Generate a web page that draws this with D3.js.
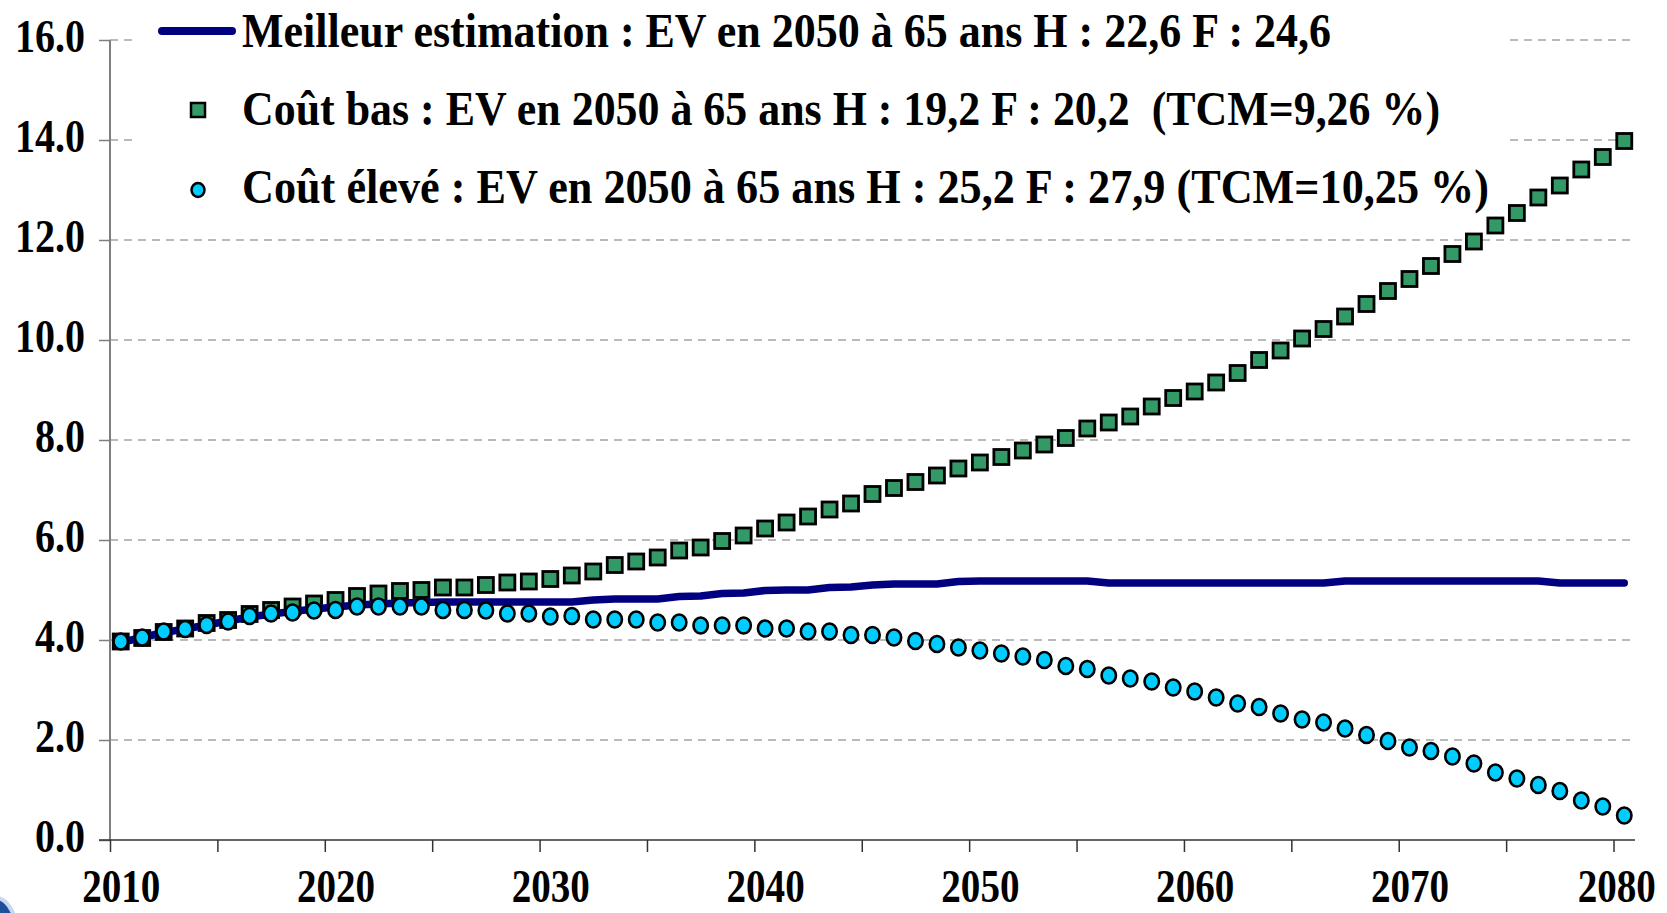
<!DOCTYPE html>
<html>
<head>
<meta charset="utf-8">
<script src="https://cdn.jsdelivr.net/npm/d3@7"></script>
<style>
  body { margin: 0; background: #fff; }
  svg { display: block; }
  text { font-family: "Liberation Serif", "Times New Roman", serif; font-weight: bold; fill: #000; }
</style>
</head>
<body>
<div id="chart"></div>
<script>
// years 2010..2080
const years = d3.range(2010, 2081);

const bestEstimate = [
  3.95, 4.05, 4.15, 4.22, 4.30, 4.38, 4.46, 4.52, 4.57, 4.62,
  4.66, 4.70, 4.72, 4.74, 4.75, 4.76, 4.76, 4.76, 4.76, 4.76,
  4.76, 4.76, 4.80, 4.82, 4.82, 4.82, 4.87, 4.88, 4.93, 4.94,
  4.99, 5.00, 5.00, 5.05, 5.06, 5.10, 5.12, 5.12, 5.12, 5.17,
  5.18, 5.18, 5.18, 5.18, 5.18, 5.18, 5.14, 5.14, 5.14, 5.14,
  5.14, 5.14, 5.14, 5.14, 5.14, 5.14, 5.14, 5.18, 5.18, 5.18,
  5.18, 5.18, 5.18, 5.18, 5.18, 5.18, 5.18, 5.14, 5.14, 5.14,
  5.14
];

const lowCost = [
  3.97, 4.04, 4.16, 4.23, 4.34, 4.40, 4.52, 4.60, 4.67, 4.73,
  4.80, 4.88, 4.93, 4.98, 5.00, 5.05, 5.05, 5.10, 5.15, 5.17,
  5.22, 5.29, 5.37, 5.50, 5.57, 5.65, 5.79, 5.85, 5.98, 6.09,
  6.23, 6.35, 6.47, 6.61, 6.73, 6.92, 7.04, 7.16, 7.29, 7.43,
  7.55, 7.66, 7.79, 7.91, 8.04, 8.23, 8.35, 8.47, 8.67, 8.84,
  8.97, 9.15, 9.34, 9.60, 9.79, 10.03, 10.22, 10.47, 10.72, 10.98,
  11.22, 11.48, 11.72, 11.97, 12.29, 12.54, 12.85, 13.09, 13.41, 13.66,
  13.98
];

const highCost = [
  3.97, 4.05, 4.17, 4.22, 4.30, 4.37, 4.48, 4.53, 4.55, 4.59,
  4.60, 4.67, 4.67, 4.67, 4.67, 4.60, 4.60, 4.59, 4.53, 4.53,
  4.47, 4.48, 4.41, 4.41, 4.41, 4.35, 4.35, 4.29, 4.29, 4.29,
  4.23, 4.23, 4.17, 4.17, 4.10, 4.10, 4.05, 3.98, 3.92, 3.85,
  3.79, 3.73, 3.67, 3.60, 3.48, 3.42, 3.29, 3.23, 3.17, 3.05,
  2.97, 2.85, 2.73, 2.66, 2.53, 2.41, 2.35, 2.23, 2.10, 1.98,
  1.85, 1.78, 1.67, 1.53, 1.35, 1.23, 1.10, 0.98, 0.79, 0.67,
  0.49
];

const yTicks = [0, 2, 4, 6, 8, 10, 12, 14, 16];
const xLabels = [2010, 2020, 2030, 2040, 2050, 2060, 2070, 2080];
const xTickMarks = d3.range(2009.5, 2080, 5);

const legendLabels = [
  "Meilleur estimation : EV en 2050 à 65 ans H : 22,6 F : 24,6",
  "Coût bas : EV en 2050 à 65 ans H : 19,2 F : 20,2\u00a0\u00a0(TCM=9,26 %)",
  "Coût élevé : EV en 2050 à 65 ans H : 25,2 F : 27,9 (TCM=10,25 %)"
];

const width = 1667, height = 913;
const plotLeft = 110, plotRight = 1635, plotTop = 40, plotBottom = 840;

const svg = d3.select("#chart").append("svg")
  .attr("width", width)
  .attr("height", height);

const x = d3.scaleLinear().domain([2009.5, 2080.5]).range([plotLeft, plotRight]);
const y = d3.scaleLinear().domain([0, 16]).range([plotBottom, plotTop]);

// the original text is a condensed bold serif: squeeze glyphs horizontally
function condense(sel, k) {
  sel.each(function() {
    const w = this.getComputedTextLength();
    d3.select(this).attr("textLength", w * k).attr("lengthAdjust", "spacingAndGlyphs");
  });
}

// gridlines
svg.append("g")
  .selectAll("line")
  .data(yTicks.filter(d => d > 0))
  .join("line")
  .attr("x1", plotLeft).attr("x2", plotRight)
  .attr("y1", d => y(d)).attr("y2", d => y(d))
  .attr("stroke", "#777")
  .attr("stroke-width", 1.2)
  .attr("stroke-dasharray", "8,6");

// y axis
const yAxis = svg.append("g")
  .attr("transform", `translate(${plotLeft},0)`)
  .call(d3.axisLeft(y).tickValues(yTicks).tickFormat(d3.format(".1f")).tickSize(11).tickPadding(14));
yAxis.select(".domain").remove();
yAxis.selectAll(".tick line").attr("stroke", "#7f7f7f").attr("stroke-width", 1.5);
yAxis.selectAll(".tick text")
  .style("font-size", "46px")
  .attr("dy", "0.26em")
  .call(condense, 0.87);
svg.append("line")
  .attr("x1", plotLeft).attr("x2", plotLeft)
  .attr("y1", y(16)).attr("y2", y(0))
  .attr("stroke", "#7f7f7f").attr("stroke-width", 2);

// x axis
const xTicks = svg.append("g")
  .attr("transform", `translate(0,${plotBottom})`)
  .call(d3.axisBottom(x).tickValues(xTickMarks).tickFormat("").tickSize(12));
xTicks.select(".domain").remove();
xTicks.selectAll(".tick line").attr("stroke", "#333").attr("stroke-width", 1.5);

const xLab = svg.append("g")
  .attr("transform", `translate(0,${plotBottom})`)
  .call(d3.axisBottom(x).tickValues(xLabels).tickFormat(d3.format("d")).tickSize(0).tickPadding(0));
xLab.select(".domain").remove();
xLab.selectAll(".tick text")
  .style("font-size", "46px")
  .attr("y", 62)
  .attr("dy", null)
  .call(condense, 0.85);
// last label: anchor at its right end so it stays inside the page
xLab.selectAll(".tick text")
  .filter(d => d === 2080)
  .attr("text-anchor", "end")
  .attr("x", function() { return +this.getAttribute("textLength") / 2 - 8; });

svg.append("line")
  .attr("x1", plotLeft - 11).attr("x2", plotRight)
  .attr("y1", plotBottom).attr("y2", plotBottom)
  .attr("stroke", "#333").attr("stroke-width", 1.5);

// legend
svg.append("rect")
  .attr("x", 134).attr("y", 0)
  .attr("width", 1371).attr("height", 205)
  .attr("fill", "#fff");

const legendX = 242;
const legendY = [47, 125, 203];
const legendW = [1089, 1198, 1247];

svg.append("line")
  .attr("x1", 162).attr("x2", 232)
  .attr("y1", 31).attr("y2", 31)
  .attr("stroke", "#000080").attr("stroke-width", 8)
  .attr("stroke-linecap", "round");
svg.append("rect")
  .attr("x", 191).attr("y", 103).attr("width", 14).attr("height", 14)
  .attr("fill", "#339966").attr("stroke", "#000").attr("stroke-width", 2.5);
svg.append("ellipse")
  .attr("cx", 198).attr("cy", 190).attr("rx", 6.5).attr("ry", 7)
  .attr("fill", "#00ccff").attr("stroke", "#000").attr("stroke-width", 2.5);

svg.append("g")
  .selectAll("text")
  .data(legendLabels)
  .join("text")
  .attr("x", legendX)
  .attr("y", (d, i) => legendY[i])
  .attr("textLength", (d, i) => legendW[i])
  .attr("lengthAdjust", "spacingAndGlyphs")
  .style("font-size", "48px")
  .text(d => d);

// series
const pts = arr => years.map((yr, i) => ({ year: yr, value: arr[i] }));

svg.append("g")
  .selectAll("rect")
  .data(pts(lowCost))
  .join("rect")
  .attr("x", d => x(d.year) - 7.5)
  .attr("y", d => y(d.value) - 7.5)
  .attr("width", 15).attr("height", 15)
  .attr("fill", "#339966")
  .attr("stroke", "#000")
  .attr("stroke-width", 2.8);

svg.append("path")
  .datum(pts(bestEstimate))
  .attr("fill", "none")
  .attr("stroke", "#000080")
  .attr("stroke-width", 7.5)
  .attr("stroke-linejoin", "round")
  .attr("stroke-linecap", "round")
  .attr("d", d3.line().x(d => x(d.year)).y(d => y(d.value)));

svg.append("g")
  .selectAll("ellipse")
  .data(pts(highCost))
  .join("ellipse")
  .attr("cx", d => x(d.year))
  .attr("cy", d => y(d.value))
  .attr("rx", 7.2).attr("ry", 8)
  .attr("fill", "#00ccff")
  .attr("stroke", "#000")
  .attr("stroke-width", 2.6);

// corner decoration from the slide
svg.append("ellipse")
  .attr("cx", -4).attr("cy", 940).attr("rx", 22).attr("ry", 42)
  .attr("fill", "#1d4f9c").attr("stroke", "#c8d8ee").attr("stroke-width", 4);
</script>
</body>
</html>
